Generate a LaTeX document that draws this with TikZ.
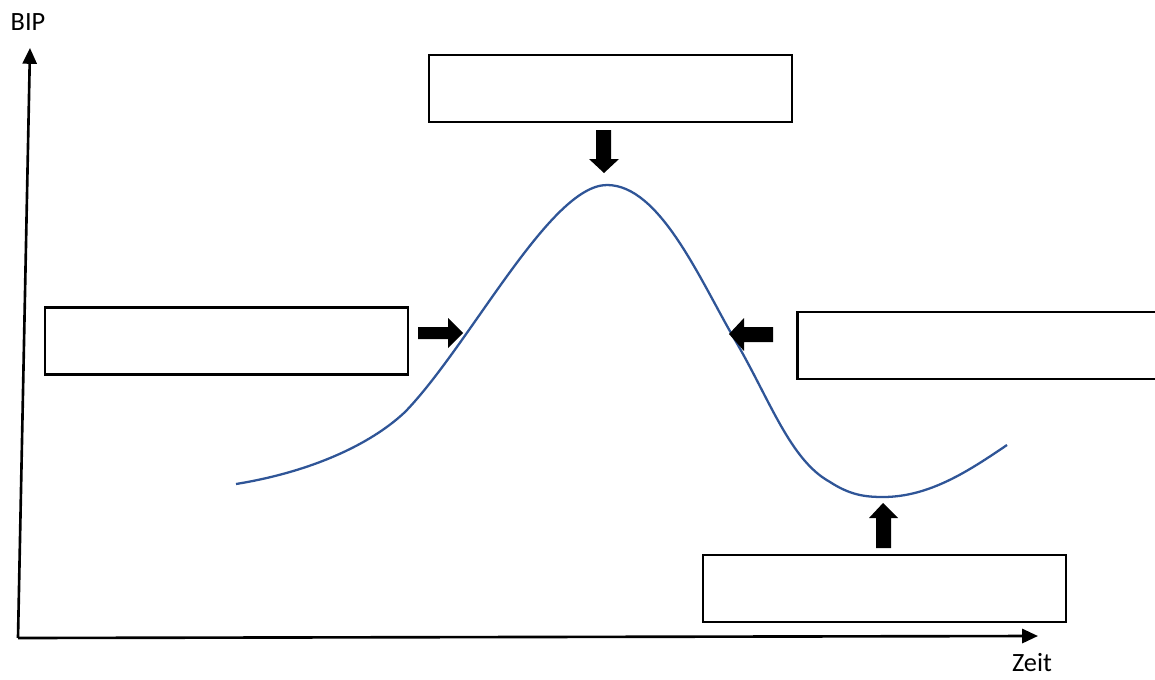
\documentclass[tikz,border=0pt]{standalone}
\usepackage{fontspec}
\setmainfont{Carlito}
\usetikzlibrary{arrows.meta}
\definecolor{curveblue}{HTML}{2F5597}
\begin{document}
\begin{tikzpicture}[x=0.02cm,y=-0.02cm,
  box/.style={draw=black,line width=1.3pt,rectangle,minimum width=7.26cm,minimum height=1.34cm,inner sep=0pt},
  axis/.style={line width=1.5pt,-{Triangle[length=9pt,width=8pt]}},
  blockarrow/.style={fill=black,draw=none},
  lbl/.style={font=\fontsize{15}{18}\selectfont,inner sep=0pt}]
\clip (0,0) rectangle (1155,679);
\useasboundingbox (0,0) rectangle (1155,679);
% axes
\coordinate (origin) at (18,638);
\coordinate (ytip) at (30,48);
\coordinate (xtip) at (1038,636);
\draw[axis] (origin) -- (ytip);
\draw[axis] (origin) -- (xtip);
\node[lbl] (bip) at (28,22) {BIP};
\node[lbl] (zeit) at (1032,663) {Zeit};
% boxes
\node[box] (top) at (610.5,88.5) {};
\node[box] (left) at (226.5,341) {};
\node[box] (right) at (979,345.5) {};
\node[box] (bottom) at (884.5,588.5) {};
% curve
\draw[curveblue,line width=1.3pt]
  (236,484) .. controls (310,472) and (370,445) .. (405,412)
  .. controls (470,345) and (550,185) .. (607,185)
  .. controls (660,185) and (700,280) .. (735,340)
  .. controls (770,400) and (790,460) .. (830,482)
  .. controls (850,495) and (865,497) .. (883,497)
  .. controls (930,497) and (970,470) .. (1007,445);
% block arrows
\fill[blockarrow] (596,130) -- (611,130) -- (611,159) -- (619,159) -- (604,173) -- (589,159) -- (596,159) -- cycle;
\fill[blockarrow] (418,327) -- (448,327) -- (448,318) -- (463,333) -- (448,348) -- (448,339) -- (418,339) -- cycle;
\fill[blockarrow] (773,327) -- (744,327) -- (744,318) -- (729,334) -- (744,351) -- (744,342) -- (773,342) -- cycle;
\fill[blockarrow] (876,548) -- (891,548) -- (891,518) -- (898,518) -- (883,503) -- (869,518) -- (876,518) -- cycle;
\end{tikzpicture}
\end{document}
